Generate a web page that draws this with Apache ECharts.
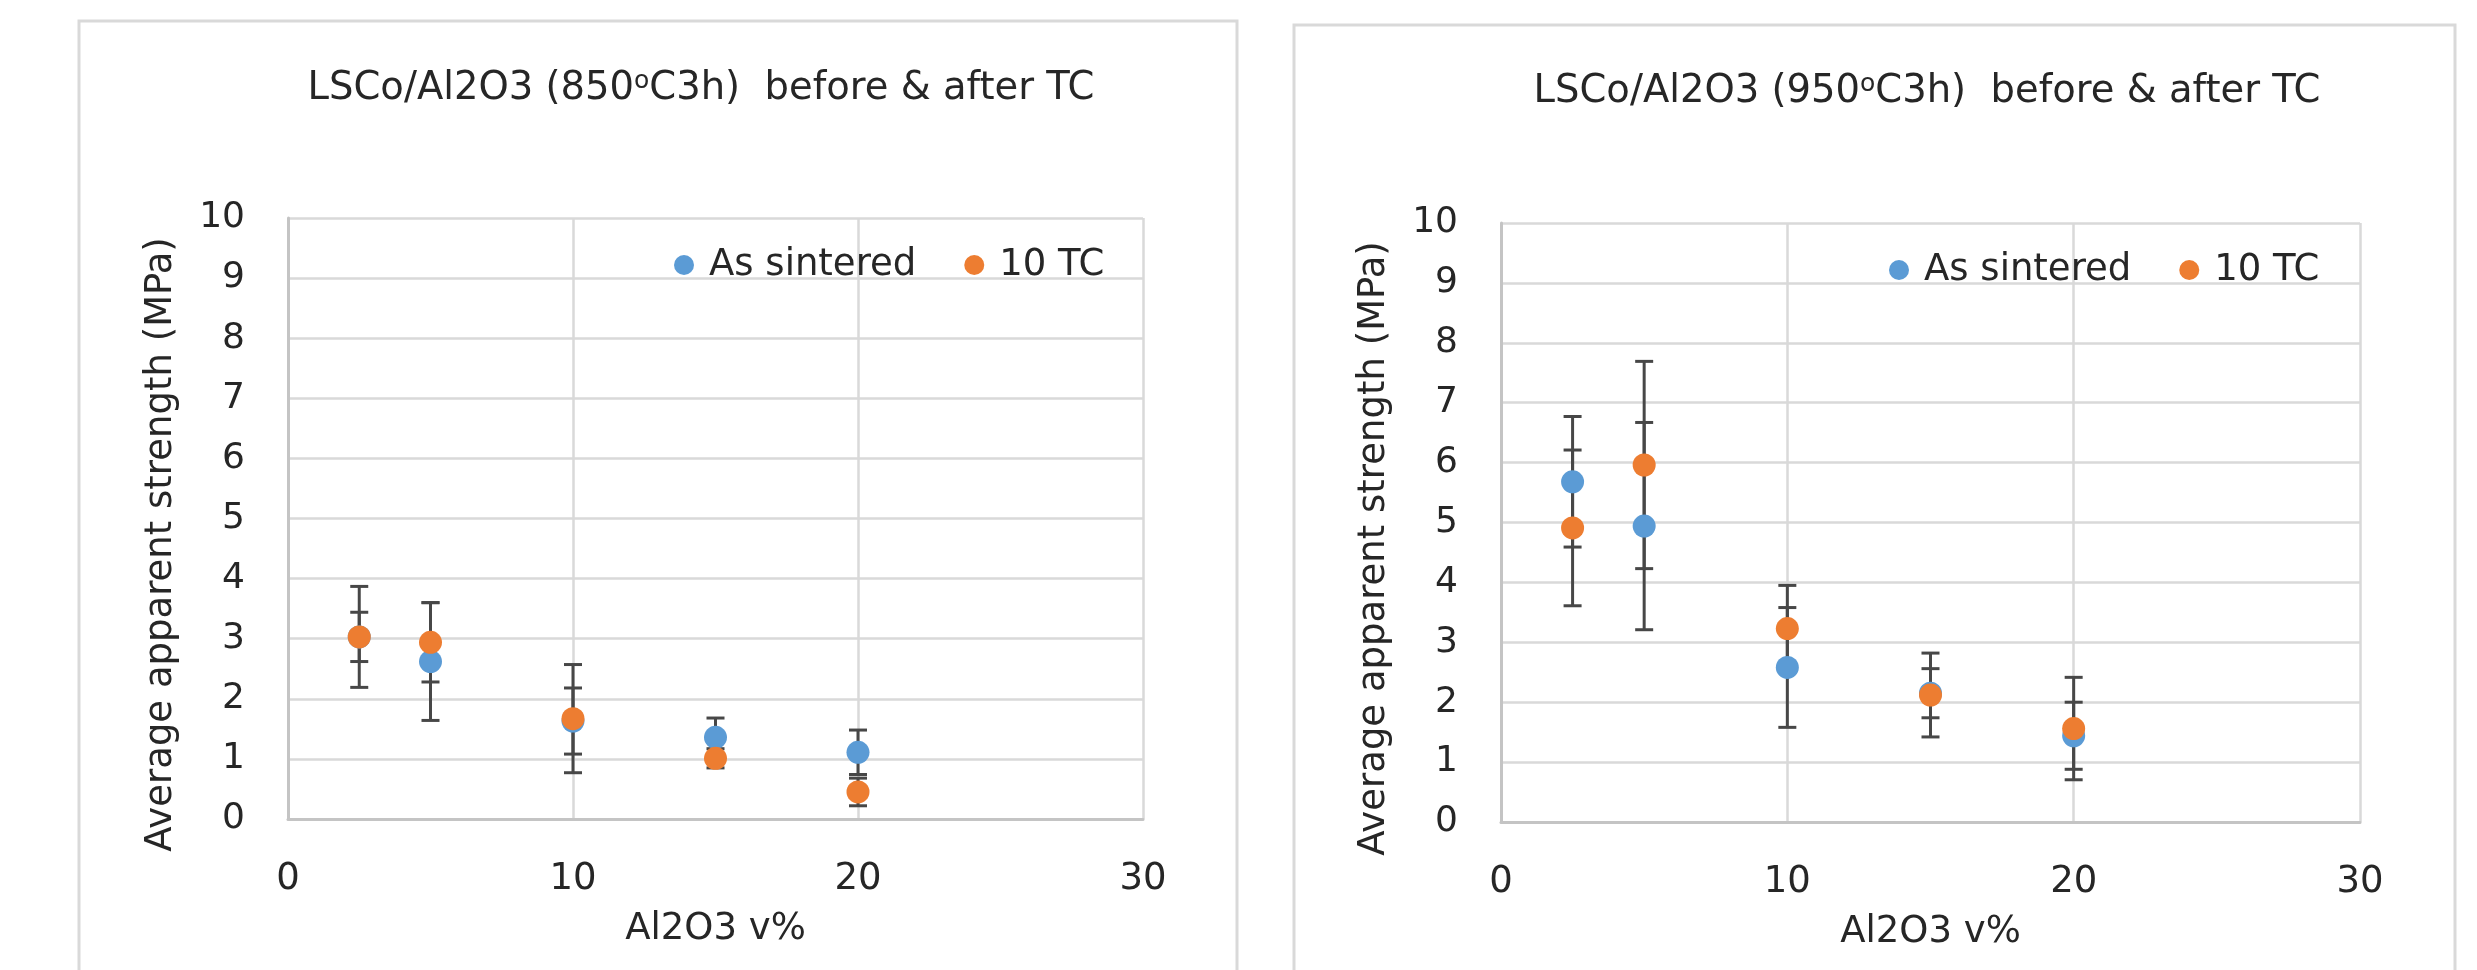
<!DOCTYPE html>
<html>
<head>
<meta charset="utf-8">
<title>LSCo/Al2O3 strength before and after thermal cycling</title>
<script src="https://cdn.jsdelivr.net/npm/echarts@6/dist/echarts.min.js"></script>
<style>
  html, body { margin: 0; padding: 0; background: #ffffff; }
  #chart { width: 2477px; height: 970px; }
</style>
</head>
<body>
<div id="chart"></div>
<script>
// Al2O3 content (vol%) of each composite
const al2o3Content = [2.5, 5, 10, 15, 20];

// 850 °C / 3 h sintering
const asSintered850 = [3.03, 2.62, 1.63, 1.36, 1.11];
const asSintered850Err = [0.84, 0.98, 0.55, 0.32, 0.37];
const tc850 = [3.03, 2.94, 1.67, 1.01, 0.45];
const tc850Err = [0.41, 0.66, 0.90, 0.16, 0.23];

// 950 °C / 3 h sintering
const asSintered950 = [5.68, 4.94, 2.58, 2.15, 1.44];
const asSintered950Err = [1.09, 1.73, 1.00, 0.41, 0.56];
const tc950 = [4.91, 5.96, 3.23, 2.12, 1.56];
const tc950Err = [1.30, 1.73, 0.72, 0.70, 0.855];

const seriesNames = ['As sintered', '10 TC'];
const xTicks = [0, 10, 20, 30];
const yTicks = [0, 1, 2, 3, 4, 5, 6, 7, 8, 9, 10];
const titles = ['LSCo/Al2O3 (850', 'LSCo/Al2O3 (950'];
const xTitle = 'Al2O3 v%';
const yTitle = 'Average apparent strength (MPa)';

const FONT = 'DejaVu Sans';
const TEXT = '#262626';
const BLUE = '#5B9BD5';
const ORANGE = '#ED7D31';
const BAR = '#474747';

const points = (vals) => vals.map((v, i) => [al2o3Content[i], v]);
const ranges = (vals, errs) => vals.map((v, i) => [al2o3Content[i], v - errs[i], v + errs[i]]);

// vertical error bar with caps at both ends
function errorBar(params, api) {
  const x = api.value(0);
  const lo = api.coord([x, api.value(1)]);
  const hi = api.coord([x, api.value(2)]);
  const half = 9;
  const style = { stroke: BAR, lineWidth: 3 };
  return {
    type: 'group',
    children: [
      { type: 'line', shape: { x1: lo[0], y1: hi[1], x2: lo[0], y2: lo[1] }, style },
      { type: 'line', shape: { x1: lo[0] - half, y1: hi[1], x2: lo[0] + half, y2: hi[1] }, style },
      { type: 'line', shape: { x1: lo[0] - half, y1: lo[1], x2: lo[0] + half, y2: lo[1] }, style }
    ]
  };
}

const grids = [
  { left: 288, top: 218, width: 855, height: 601 },
  { left: 1501, top: 223, width: 859, height: 599 }
];

function xAxisFor(i) {
  return {
    gridIndex: i, type: 'value', min: 0, max: 30, interval: 10,
    name: xTitle, nameLocation: 'middle', nameGap: 92,
    nameTextStyle: { fontFamily: FONT, fontSize: 37, color: TEXT },
    axisLine: { show: true, onZero: false, lineStyle: { color: '#c4c4c4', width: 3 } },
    axisTick: { show: false },
    splitLine: { show: true, lineStyle: { color: '#d9d9d9', width: 2.5 } },
    axisLabel: {
      fontFamily: FONT, fontSize: 37, color: TEXT, margin: 42,
      customValues: xTicks
    }
  };
}

function yAxisFor(i) {
  return {
    gridIndex: i, type: 'value', min: 0, max: 10, interval: 1,
    name: yTitle, nameLocation: 'middle', nameGap: 108, nameRotate: 90,
    nameTextStyle: { fontFamily: FONT, fontSize: 37, color: TEXT, padding: [0, 52, 0, 0] },
    axisLine: { show: true, lineStyle: { color: '#c4c4c4', width: 3 } },
    axisTick: { show: false },
    splitLine: { show: true, lineStyle: { color: '#d9d9d9', width: 2.5 } },
    axisLabel: {
      fontFamily: FONT, fontSize: 36, color: TEXT, margin: 43,
      customValues: yTicks
    }
  };
}

function titleFor(i, centerX, top) {
  return {
    text: '{a|' + titles[i] + '}{s|o}{a|C3h)  before & after TC}',
    left: centerX, top: top, textAlign: 'center',
    textStyle: {
      fontWeight: 'normal',
      rich: {
        a: { fontFamily: FONT, fontSize: 38.5, fontWeight: 'normal', color: TEXT },
        s: { fontFamily: FONT, fontSize: 25, fontWeight: 'normal', color: TEXT, padding: [0, 0, 15, 0] }
      }
    }
  };
}

function legendFor(i, left, top) {
  return {
    data: seriesNames, left: left, top: top, orient: 'horizontal',
    icon: 'circle', itemWidth: 20, itemHeight: 20, itemGap: 48,
    selectedMode: false,
    textStyle: { fontFamily: FONT, fontSize: 37, color: TEXT, padding: [0, 0, 0, 10], lineHeight: 40 }
  };
}

function seriesFor(i, blueVals, blueErr, orangeVals, orangeErr) {
  return [
    { type: 'custom', name: 'As sintered range', xAxisIndex: i, yAxisIndex: i,
      renderItem: errorBar, data: ranges(blueVals, blueErr), encode: { x: 0, y: [1, 2] }, z: 2, silent: true },
    { type: 'custom', name: '10 TC range', xAxisIndex: i, yAxisIndex: i,
      renderItem: errorBar, data: ranges(orangeVals, orangeErr), encode: { x: 0, y: [1, 2] }, z: 2, silent: true },
    { type: 'scatter', name: seriesNames[0], xAxisIndex: i, yAxisIndex: i,
      data: points(blueVals), symbol: 'circle', symbolSize: 23,
      itemStyle: { color: BLUE, opacity: 1 }, z: 3 },
    { type: 'scatter', name: seriesNames[1], xAxisIndex: i, yAxisIndex: i,
      data: points(orangeVals), symbol: 'circle', symbolSize: 23,
      itemStyle: { color: ORANGE, opacity: 1 }, z: 4 }
  ];
}

const chart = echarts.init(document.getElementById('chart'), null, { renderer: 'canvas' });

chart.setOption({
  backgroundColor: '#ffffff',
  animation: false,
  color: [BLUE, ORANGE],
  title: [titleFor(0, 696, 64), titleFor(1, 1922, 67)],
  legend: [legendFor(0, 669, 240), legendFor(1, 1884, 245)],
  grid: grids,
  xAxis: [xAxisFor(0), xAxisFor(1)],
  yAxis: [yAxisFor(0), yAxisFor(1)],
  series: [
    ...seriesFor(0, asSintered850, asSintered850Err, tc850, tc850Err),
    ...seriesFor(1, asSintered950, asSintered950Err, tc950, tc950Err)
  ],
  graphic: [
    { type: 'rect', shape: { x: 79, y: 21, width: 1158, height: 1000 },
      style: { fill: 'none', stroke: '#d9d9d9', lineWidth: 3 }, z: -10, silent: true },
    { type: 'rect', shape: { x: 1294, y: 25, width: 1161, height: 1000 },
      style: { fill: 'none', stroke: '#d9d9d9', lineWidth: 3 }, z: -10, silent: true }
  ]
});
</script>
</body>
</html>
